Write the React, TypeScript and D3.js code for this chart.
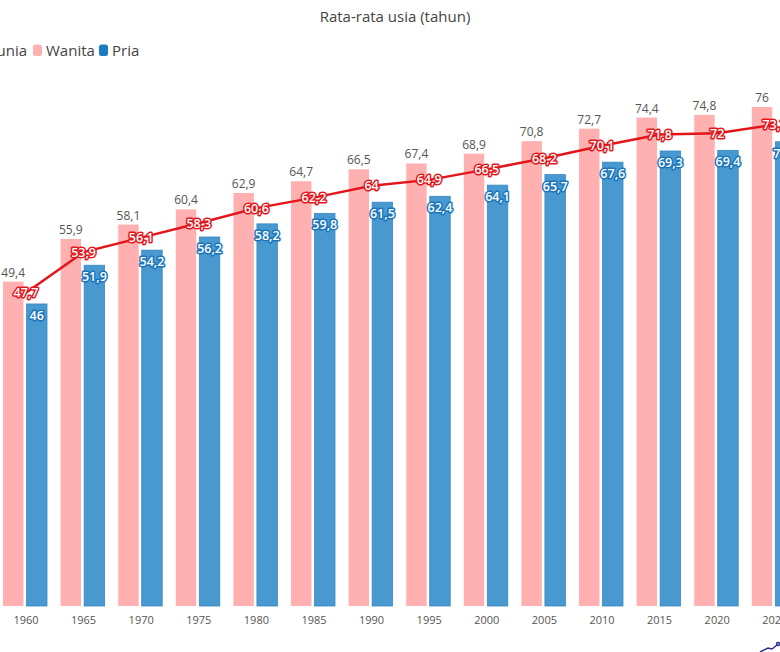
import React, { useEffect, useRef } from "react";
import * as d3 from "d3";

// Rata-rata usia, per lima tahun
const years = ["1960", "1965", "1970", "1975", "1980", "1985", "1990", "1995", "2000", "2005", "2010", "2015", "2020", "2025"];
const wanita = [49.4, 55.9, 58.1, 60.4, 62.9, 64.7, 66.5, 67.4, 68.9, 70.8, 72.7, 74.4, 74.8, 76];
const pria = [46, 51.9, 54.2, 56.2, 58.2, 59.8, 61.5, 62.4, 64.1, 65.7, 67.6, 69.3, 69.4, 70.7];
const dunia = [47.7, 53.9, 56.1, 58.3, 60.6, 62.2, 64, 64.9, 66.5, 68.2, 70.1, 71.8, 72, 73.3];
const seriesNames = ["Wanita", "Pria"];

const W = 780;
const H = 652;
const FONT = "'Open Sans', 'Noto Sans', sans-serif";

const fmt = (v: number) => String(v).replace(".", ",");

export default function App() {
  const ref = useRef<SVGSVGElement>(null);

  useEffect(() => {
    document.body.style.margin = "0";
    const svg = d3.select(ref.current);
    svg.selectAll("*").remove();

    const step = 57.6;
    const first = 26;
    const x = d3.scaleBand<string>()
      .domain(years)
      .range([first - step / 2, first - step / 2 + step * years.length])
      .paddingInner(0);
    const xSub = d3.scaleBand<string>()
      .domain(seriesNames)
      .range([5.8, 49.8])
      .paddingInner(0.13);
    const y = d3.scaleLinear().domain([0, 76]).range([606, 107]);

    const pink = "#ffb1b1";
    const blue = "#4799d0";
    const red = "#e3151a";

    // title
    svg.append("text")
      .attr("x", 395).attr("y", 22)
      .attr("text-anchor", "middle")
      .style("font-family", FONT).style("font-size", "15px")
      .attr("fill", "#444")
      .text("Rata-rata usia (tahun)");

    // legend
    const lg = svg.append("g").style("font-family", FONT).style("font-size", "15px").attr("fill", "#444");
    lg.append("text").attr("x", 27).attr("y", 56).attr("text-anchor", "end").text("Dunia");
    lg.append("rect").attr("x", 33).attr("y", 44.5).attr("width", 9).attr("height", 11.5).attr("rx", 2.5).attr("fill", pink);
    lg.append("text").attr("x", 46).attr("y", 56).text("Wanita");
    lg.append("rect").attr("x", 99).attr("y", 44.5).attr("width", 9).attr("height", 11.5).attr("rx", 2.5).attr("fill", "#1a7bc3");
    lg.append("text").attr("x", 112).attr("y", 56).text("Pria");

    // bars
    const groups = svg.append("g")
      .selectAll("g")
      .data(years)
      .join("g")
      .attr("transform", (d) => `translate(${x(d)},0)`);

    groups.append("rect")
      .attr("x", xSub("Wanita")!)
      .attr("width", xSub.bandwidth())
      .attr("y", (_, i) => y(wanita[i]))
      .attr("height", (_, i) => y(0) - y(wanita[i]))
      .attr("fill", pink);

    groups.append("rect")
      .attr("x", xSub("Pria")!)
      .attr("width", xSub.bandwidth())
      .attr("y", (_, i) => y(pria[i]))
      .attr("height", (_, i) => y(0) - y(pria[i]))
      .attr("fill", blue)
      .attr("stroke", "#3a86c0")
      .attr("stroke-width", 0.8);

    // wanita labels above bars
    groups.append("text")
      .attr("x", xSub("Wanita")! + xSub.bandwidth() / 2)
      .attr("y", (_, i) => y(wanita[i]) - 5)
      .attr("text-anchor", "middle")
      .style("font-family", FONT).style("font-size", "12px")
      .attr("fill", "#555")
      .text((_, i) => fmt(wanita[i]));

    // pria labels inside bars
    groups.append("text")
      .attr("x", xSub("Pria")! + xSub.bandwidth() / 2)
      .attr("y", (_, i) => y(pria[i]) + 16)
      .attr("text-anchor", "middle")
      .style("font-family", FONT).style("font-size", "12.5px").style("font-weight", 600)
      .attr("fill", "#fff")
      .attr("stroke", "#1b74bb").attr("stroke-width", 3)
      .attr("paint-order", "stroke")
      .attr("stroke-linejoin", "round")
      .text((_, i) => fmt(pria[i]));

    // x labels
    svg.append("g")
      .selectAll("text")
      .data(years)
      .join("text")
      .attr("x", (d) => x(d)! + x.bandwidth() / 2)
      .attr("y", 624)
      .attr("text-anchor", "middle")
      .style("font-family", FONT).style("font-size", "11px")
      .attr("fill", "#555")
      .text((d) => d);

    // dunia line
    const cx = (i: number) => x(years[i])! + x.bandwidth() / 2;
    const line = d3.line<number>()
      .x((_, i) => cx(i))
      .y((d) => y(d));
    svg.append("path")
      .attr("d", line(dunia))
      .attr("fill", "none")
      .attr("stroke", red)
      .attr("stroke-width", 2.5);

    svg.append("g")
      .selectAll("text")
      .data(dunia)
      .join("text")
      .attr("x", (_, i) => cx(i))
      .attr("y", (d) => y(d) + 4.5)
      .attr("text-anchor", "middle")
      .style("font-family", FONT).style("font-size", "12.5px").style("font-weight", 600)
      .attr("fill", "#fff")
      .attr("stroke", red).attr("stroke-width", 3)
      .attr("paint-order", "stroke")
      .attr("stroke-linejoin", "round")
      .text((d) => fmt(d));

    // small mark in corner
    const mark = svg.append("g").attr("stroke", "#2b2f8f").attr("fill", "none").attr("stroke-width", 1.5);
    mark.append("path").attr("d", "M760,652 L768,648 L772,649 L777,645");
    mark.append("circle").attr("cx", 778).attr("cy", 644).attr("r", 1.5);
  }, []);

  return (
    <svg
      ref={ref}
      width={W}
      height={H}
      style={{ position: "absolute", left: 0, top: 0, background: "#fff" }}
    />
  );
}
